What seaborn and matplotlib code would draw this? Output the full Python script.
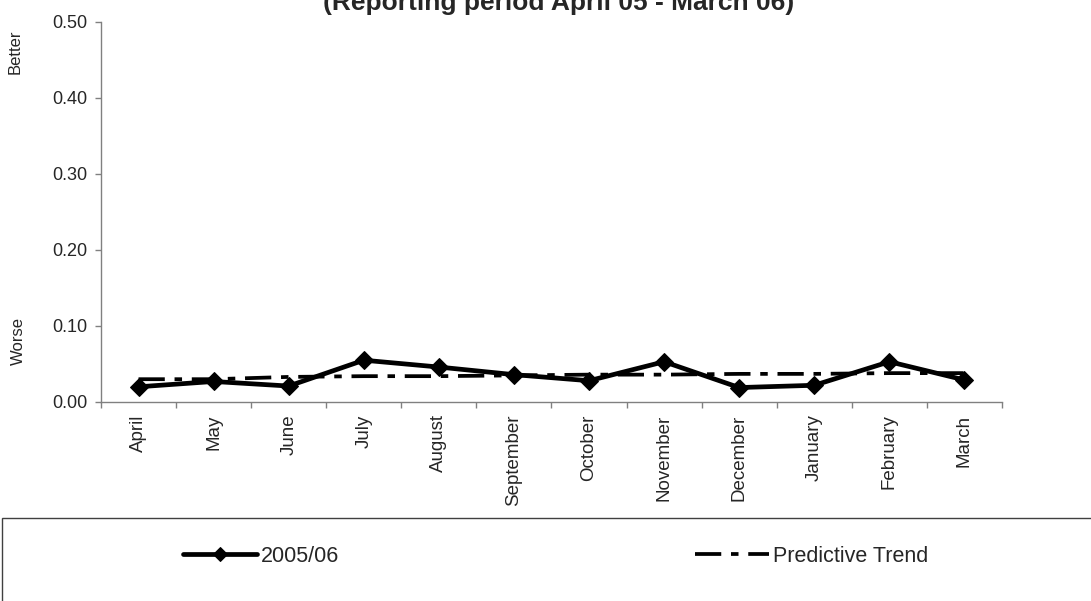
"""
plot.py
Monthly indicator 2005/06 with predictive trend line.
"""

import numpy as np
import pandas as pd
import matplotlib
matplotlib.use("Agg")
import matplotlib.pyplot as plt
from matplotlib.patches import Rectangle
from matplotlib.ticker import FixedLocator
import seaborn as sns


# ----------------------------------------------------
# Data
# ----------------------------------------------------
months = ["April", "May", "June", "July", "August", "September",
          "October", "November", "December", "January", "February", "March"]
values_2005_06 = [0.020, 0.027, 0.021, 0.055, 0.046, 0.036,
                  0.028, 0.053, 0.019, 0.022, 0.053, 0.029]
predictive_trend = [0.030, 0.030, 0.033, 0.034, 0.034, 0.035,
                    0.036, 0.036, 0.037, 0.037, 0.038, 0.038]
y_ticks = [0.0, 0.1, 0.2, 0.3, 0.4, 0.5]
title_text = "(Reporting period April 05 - March 06)"


def main():
    sns.set_style("white")
    plt.rcParams["font.family"] = ["Liberation Sans", "DejaVu Sans"]

    df = pd.DataFrame({
        "pos": np.arange(len(months)),
        "month": months,
        "2005/06": values_2005_06,
        "Predictive Trend": predictive_trend,
    })

    fig = plt.figure(figsize=(10.91, 6.01), dpi=100)
    ax = fig.add_axes([101 / 1091, 1 - 402 / 601, 901 / 1091, 380 / 601])

    # trend first so the data line sits on top
    sns.lineplot(data=df, x="pos", y="Predictive Trend", ax=ax,
                 color="black", lw=2.7, linestyle=(0, (7, 2.6, 2, 2.6)),
                 label="Predictive Trend", legend=False)
    sns.lineplot(data=df, x="pos", y="2005/06", ax=ax,
                 color="black", lw=3.4, marker="D", markersize=9,
                 markeredgecolor="black", label="2005/06", legend=False)

    # axes styling
    ax.set_xlim(-0.5, len(months) - 0.5)
    ax.set_ylim(y_ticks[0], y_ticks[-1])
    ax.set_yticks(y_ticks)
    ax.set_yticklabels([f"{t:.2f}" for t in y_ticks], fontsize=13)
    ax.set_xticks(df["pos"])
    ax.set_xticklabels(months, rotation=90, fontsize=13.5, va="top")
    ax.xaxis.set_minor_locator(FixedLocator(np.arange(len(months) + 1) - 0.5))
    ax.tick_params(axis="x", which="major", length=0, pad=9)
    ax.tick_params(axis="x", which="minor", length=4, width=1,
                   color="#808080", direction="out", bottom=True)
    ax.tick_params(axis="y", length=4, width=1, color="#808080",
                   direction="out", left=True, pad=6)
    ax.set_xlabel("")
    ax.set_ylabel("")

    for side in ["top", "right"]:
        ax.spines[side].set_visible(False)
    for side in ["left", "bottom"]:
        ax.spines[side].set_color("#808080")
        ax.spines[side].set_linewidth(1)

    # side labels
    fig.text(15 / 1091, 1 - 52 / 601, "Better", rotation=90,
             ha="center", va="center", fontsize=12)
    fig.text(18 / 1091, 1 - 341 / 601, "Worse", rotation=90,
             ha="center", va="center", fontsize=12)

    # title (clipped at the top like the original)
    fig.text(559 / 1091, 1 - 10 / 601, title_text, ha="center",
             va="baseline", fontsize=19, fontweight="bold")

    # legend area with a box running off the edge
    fig.patches.append(Rectangle((2 / 1091, -0.05), 1.1, 0.05 + 1 - 518 / 601,
                                 transform=fig.transFigure, fill=False,
                                 edgecolor="#404040", linewidth=1))
    handles, labels = ax.get_legend_handles_labels()
    order = [labels.index("2005/06"), labels.index("Predictive Trend")]
    fig.legend([handles[i] for i in order], [labels[i] for i in order],
               loc="center left", bbox_to_anchor=(172 / 1091, 1 - 556 / 601),
               ncol=2, frameon=False, fontsize=15.5, borderpad=0,
               handlelength=3.45, handletextpad=0.2, columnspacing=16.5,
               markerscale=0.75)

    fig.savefig("out.png", dpi=100)
    plt.close(fig)


if __name__ == "__main__":
    main()
